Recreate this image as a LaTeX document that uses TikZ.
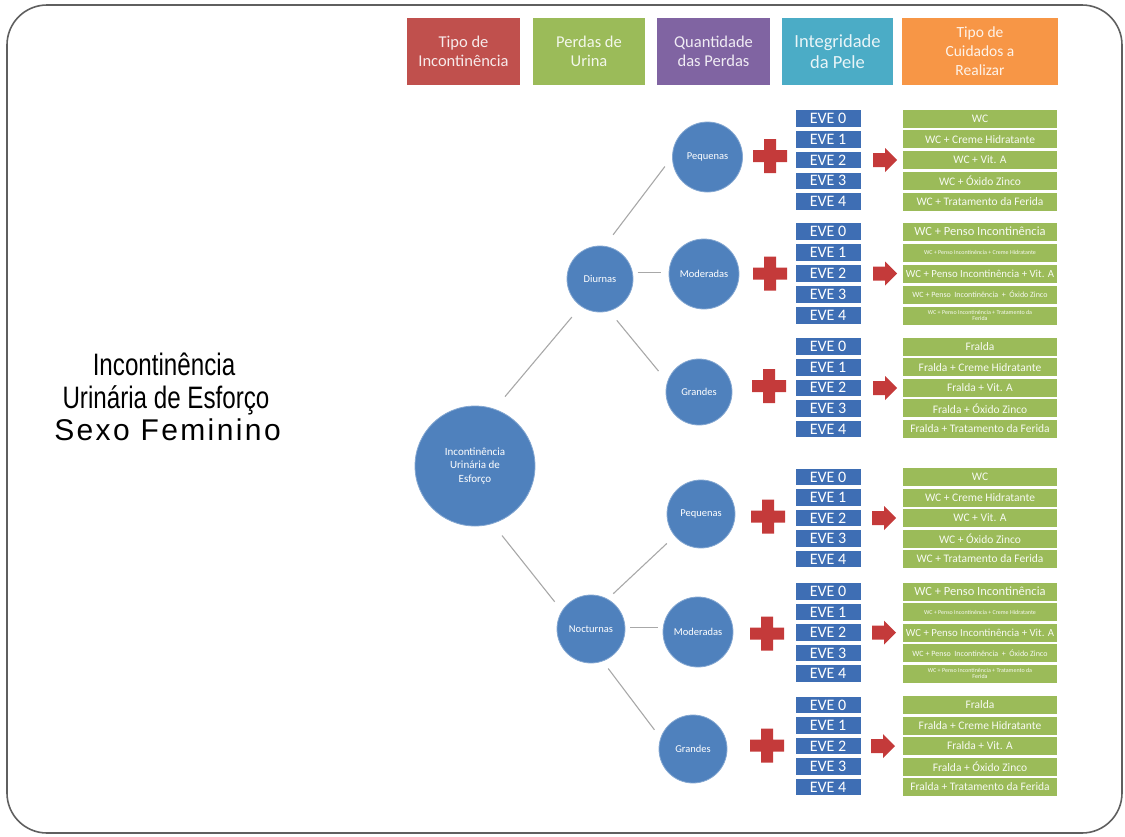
\documentclass[tikz,border=0pt]{standalone}
\usepackage{fontspec}
\setmainfont{Carlito}
\newfontfamily\titlenarrow[FakeStretch=0.78]{Liberation Sans}
\newfontfamily\titlewide[LetterSpace=8]{Liberation Sans}

\definecolor{hdrred}{HTML}{C0504D}
\definecolor{hdrgreen}{HTML}{9BBB59}
\definecolor{hdrpurple}{HTML}{8064A2}
\definecolor{hdrblue}{HTML}{4BACC6}
\definecolor{hdrorange}{HTML}{F79646}
\definecolor{circblue}{HTML}{4F81BD}
\definecolor{evefill}{RGB}{62,110,180}
\definecolor{carefill}{HTML}{9BBB59}
\definecolor{markred}{RGB}{196,58,58}
\definecolor{linkgray}{RGB}{168,168,168}
\definecolor{framegray}{RGB}{95,95,95}

% red plus sign centred on (#1,#2)
\newcommand\plusmark[2]{%
  \fill[markred] (#1-17,#2-6) rectangle (#1+17,#2+6)
                 (#1-6,#2-17) rectangle (#1+6,#2+17);}
% red block arrow centred on (#1,#2)
\newcommand\arrowmark[2]{%
  \fill[markred] (#1-12,#2-7) -- (#1,#2-7) -- (#1,#2-12) -- (#1+12,#2)
                 -- (#1,#2+12) -- (#1,#2+7) -- (#1-12,#2+7) -- cycle;}
% column of skin-integrity grades: prefix, first row y, row pitch
\newcommand\evegroup[3]{%
  \foreach \i in {0,...,4}{\node[evebox] (#1e\i) at (828,{#2+\i*#3}) {EVE \i};}}
% column of care boxes built on one base word
\newcommand\caregroup[4]{%
  \node[carebox] (#1c0) at (980,#2) {#4};
  \node[carebox] (#1c1) at (980,{#2+#3}) {#4 + Creme Hidratante};
  \node[carebox] (#1c2) at (980,{#2+2*#3}) {#4 + Vit. A};
  \node[carebox] (#1c3) at (980,{#2+3*#3}) {#4 + Óxido Zinco};
  \node[carebox] (#1c4) at (980,{#2+4*#3}) {#4 + Tratamento da Ferida};}
% column of care boxes for incontinence pads
\newcommand\pensogroup[3]{%
  \foreach \i/\st/\t in {0/cfa/{WC + Penso Incontinência},
      1/cfb/{WC + Penso Incontinência + Creme Hidratante},
      2/cfc/{WC + Penso Incontinência + Vit. A},
      3/cfd/{WC + Penso \ Incontinência \ + \ Óxido Zinco},
      4/cfb/{WC + Penso Incontinência + Tratamento da\\Ferida}}
    {\node[carebox,\st] (#1c\i) at (980,{#2+\i*#3}) {\t};}}

\begin{document}
\begin{tikzpicture}[x=1pt,y=-1pt,
  hdr/.style 2 args={rectangle, fill=#1, text=#1!12!white, minimum width=#2,
    minimum height=67, inner sep=1pt, align=center},
  circ/.style={circle, fill=circblue, draw=circblue!70!white, line width=0.8pt,
    inner sep=0pt, text=white, align=center, font=\fontsize{10.5}{13}\selectfont},
  link/.style={draw=linkgray, line width=1.1pt},
  evebox/.style={rectangle, fill=evefill, draw=white, line width=0.6pt,
    minimum width=66, minimum height=17.5, inner sep=0pt, text=white,
    font=\fontsize{16}{16}\selectfont},
  carebox/.style={rectangle, fill=carefill, minimum width=154, minimum height=18,
    inner sep=0pt, text=carefill!8!white, align=center,
    font=\fontsize{11.5}{12}\selectfont},
  cfa/.style={font=\fontsize{12.5}{13}\selectfont},
  cfb/.style={font=\fontsize{6}{6.5}\selectfont},
  cfc/.style={font=\fontsize{10.8}{12}\selectfont},
  cfd/.style={font=\fontsize{8}{9}\selectfont},
]
\useasboundingbox (0,0) rectangle (1125,836);

% slide frame
\draw[framegray, line width=1.6pt, rounded corners=40pt] (7,5) rectangle (1122,833);

% title on the left
\node[anchor=base, inner sep=0pt] (tl1) at (164,375)
  {\titlenarrow\fontsize{31}{33}\selectfont Incontinência};
\node[anchor=base, inner sep=0pt] (tl2) at (166,408)
  {\titlenarrow\fontsize{31}{33}\selectfont Urinária de Esforço};
\node[anchor=base, inner sep=0pt] (tl3) at (167.5,440)
  {\titlewide\fontsize{30}{33}\selectfont Sexo Feminino};

% column headers
\node[hdr={hdrred}{113}, font=\fontsize{16.5}{19.5}\selectfont] (h1) at (463.5,51.5) {Tipo de\\Incontinência};
\node[hdr={hdrgreen}{112}, font=\fontsize{16.5}{19.5}\selectfont] (h2) at (589,51.5) {Perdas de\\Urina};
\node[hdr={hdrpurple}{113}, font=\fontsize{16.5}{19.5}\selectfont] (h3) at (713.5,51.5) {Quantidade\\das Perdas};
\node[hdr={hdrblue}{111}, font=\fontsize{18.5}{21.5}\selectfont] (h4) at (837.5,51.5) {Integridade\\da Pele};
\node[hdr={hdrorange}{156}, font=\fontsize{15.5}{19}\selectfont] (h5) at (980,51.5) {Tipo de\\Cuidados a\\Realizar};

% hierarchy of circles
\node[circ, minimum size=120, font=\fontsize{11}{13.3}\selectfont] (root) at (475,466) {Incontinência\\Urinária de\\Esforço};
\node[circ, minimum size=66] (diur) at (600,279) {Diurnas};
\node[circ, minimum size=68] (noct) at (591,629) {Nocturnas};
\node[circ, minimum size=70] (peqA) at (707.5,157) {Pequenas};
\node[circ, minimum size=70] (modA) at (704,274) {Moderadas};
\node[circ, minimum size=66] (graA) at (699,392) {Grandes};
\node[circ, minimum size=68] (peqB) at (701,514) {Pequenas};
\node[circ, minimum size=70] (modB) at (698,632) {Moderadas};
\node[circ, minimum size=68] (graB) at (693,749) {Grandes};

% connectors
\draw[link, shorten <=16pt, shorten >=14pt] (root.71) -- (diur.235);
\draw[link, shorten <=15pt, shorten >=11.5pt] (root.-73) -- (noct.148);
\draw[link, shorten <=14pt, shorten >=12pt] (diur.82) -- (peqA.180);
\draw[link, shorten <=5pt, shorten >=8pt] (diur.12) -- (modA.west |- diur.12);
\draw[link, shorten <=12pt, shorten >=13.7pt] (diur.-74) -- (graA.162);
\draw[link, shorten <=7.6pt, shorten >=10.7pt] (noct.61) -- (peqB.220);
\draw[link, shorten <=5pt, shorten >=5pt] (noct.2) -- (modB.west |- noct.2);
\draw[link, shorten <=9pt, shorten >=10pt] (noct.-70) -- (graB.161);

% plus signs
\plusmark{770}{156}
\plusmark{770}{273.5}
\plusmark{769}{386}
\plusmark{768}{516.5}
\plusmark{767}{633.5}
\plusmark{767}{745.5}

% skin-integrity grades
\evegroup{gA}{118.5}{20.75}
\evegroup{gB}{231.5}{21}
\evegroup{gC}{346.5}{20.6}
\evegroup{gD}{477}{20.5}
\evegroup{gE}{591.5}{20.5}
\evegroup{gF}{705}{20.5}

% arrows
\arrowmark{885}{160}
\arrowmark{885}{273.5}
\arrowmark{885}{388}
\arrowmark{884}{518}
\arrowmark{884}{632.5}
\arrowmark{883}{746}

% care to provide
\caregroup{gA}{118.5}{20.75}{WC}
\pensogroup{gB}{231.5}{21}
\caregroup{gC}{346.5}{20.6}{Fralda}
\caregroup{gD}{477}{20.5}{WC}
\pensogroup{gE}{591.5}{20.5}
\caregroup{gF}{705}{20.5}{Fralda}
\end{tikzpicture}
\end{document}
